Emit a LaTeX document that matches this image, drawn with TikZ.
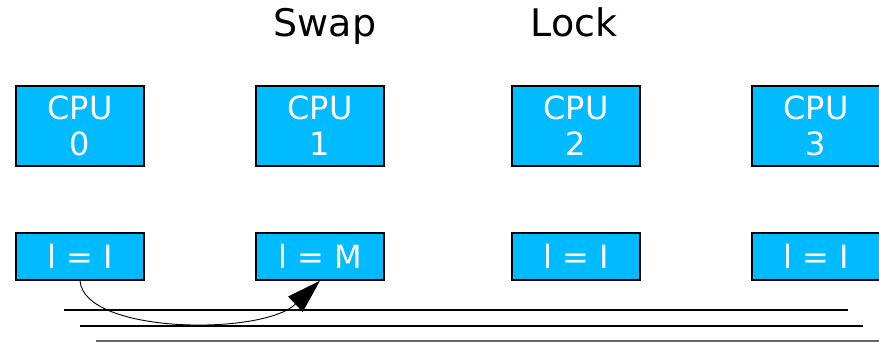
\documentclass[tikz,border=0pt]{standalone}
\usepackage{fontspec}
\setmainfont{DejaVu Sans}
\usetikzlibrary{arrows.meta}
\definecolor{boxblue}{HTML}{00BBFF}
\tikzset{
  cpubox/.style={draw=black, line width=1.5pt, fill=boxblue, text=white,
    minimum width=128pt, minimum height=80pt, inner sep=0pt, align=center,
    font=\fontsize{32}{36}\selectfont},
  cachebox/.style={draw=black, line width=1.5pt, fill=boxblue, text=white,
    minimum width=128pt, minimum height=47pt, inner sep=0pt,
    font=\fontsize{32}{38}\selectfont},
  title/.style={font=\fontsize{38}{45}\selectfont, text=black, inner sep=0pt, anchor=base},
  busline/.style={draw=black, line width=1.4pt},
  swaparrow/.style={draw=black, line width=0.9pt, -{Triangle[length=34pt,width=21pt]}}
}
\begin{document}
\begin{tikzpicture}[x=1pt,y=-1pt]
\useasboundingbox (0,0) rectangle (879,342);
\node[title] (swap) at (325,37) {Swap};
\node[title] (lock) at (574,37) {Lock};
\node[cpubox] (cpu0) at (80,126) {CPU\\0};
\node[cpubox] (cpu1) at (320,126) {CPU\\1};
\node[cpubox] (cpu2) at (576,126) {CPU\\2};
\node[cpubox] (cpu3) at (816,126) {CPU\\3};
\node[cachebox] (c0) at (80,256.5) {l = I};
\node[cachebox] (c1) at (320,256.5) {l = M};
\node[cachebox] (c2) at (576,256.5) {l = I};
\node[cachebox] (c3) at (816,256.5) {l = I};
\coordinate (a1) at (64,310); \coordinate (b1) at (848,310);
\coordinate (a2) at (80,326); \coordinate (b2) at (863,326);
\coordinate (a3) at (96,340.8); \coordinate (b3) at (879,340.8);
\draw[busline] (a1) -- (b1);
\draw[busline] (a2) -- (b2);
\draw[busline, draw=black!60] (a3) -- (b3);
\draw[swaparrow] (c0.south) .. controls (84,334) and (262,336) .. (c1.south);
\end{tikzpicture}
\end{document}
